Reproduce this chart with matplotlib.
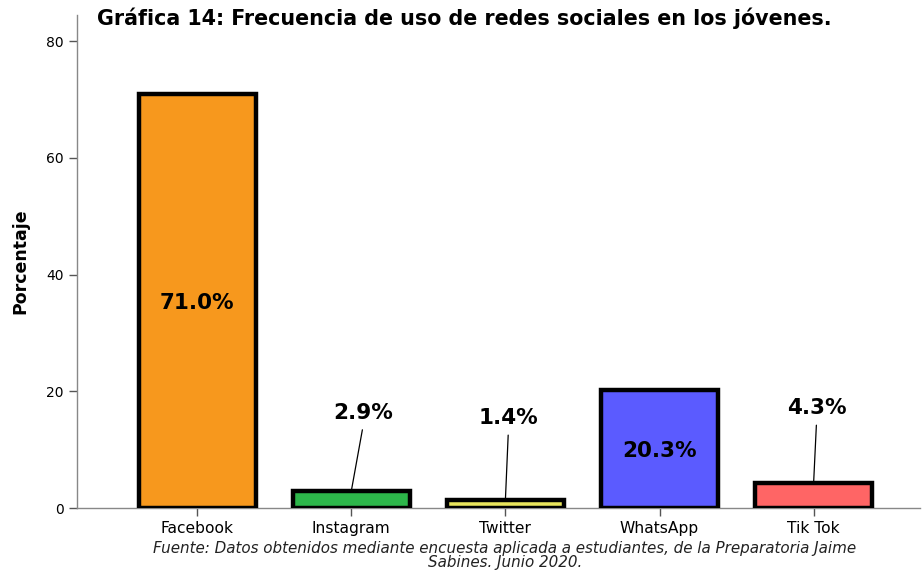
import matplotlib

matplotlib.use("Agg")
import matplotlib.pyplot as plt

categories = ["Facebook", "Instagram", "Twitter", "WhatsApp", "Tik Tok"]
percentages = [71.0, 2.9, 1.4, 20.3, 4.3]
bar_colors = ["#F7981D", "#2DB64A", "#E9E55C", "#5B5BFF", "#FF6565"]
y_ticks = [0, 20, 40, 60, 80]

# labels inside the bar vs. callouts above small bars
inside = [True, False, False, True, False]
callout_y = [None, 16.3, 15.4, None, 17.1]
callout_dx = [0, 0.08, 0.02, 0, 0.02]

plt.rcParams["font.family"] = ["DejaVu Sans"]

fig = plt.figure(figsize=(9.23, 5.71), dpi=100)
ax = fig.add_axes([0.0834, 0.1103, 0.9133, 0.8634])

x = list(range(len(categories)))
ax.bar(x, percentages, width=0.76, color=bar_colors, edgecolor="black",
       linewidth=3.2, zorder=3)

for i, v in enumerate(percentages):
    label = f"{v:.1f}%"
    if inside[i]:
        ax.text(i, v / 2 - 0.4, label, ha="center", va="center", fontsize=15.5,
                fontweight="bold", zorder=4)
    else:
        ax.annotate(label, xy=(i, v), xytext=(i + callout_dx[i], callout_y[i]),
                    ha="center", va="center", fontsize=15.5, fontweight="bold",
                    arrowprops=dict(arrowstyle="-", color="black", lw=0.9,
                                    relpos=(0.5, 0.0), shrinkA=3, shrinkB=0),
                    zorder=4)

ax.set_xlim(-0.78, 4.69)
ax.set_ylim(0, 84.5)
ax.set_xticks(x)
ax.set_xticklabels(categories, fontsize=11.2)
ax.set_yticks(y_ticks)
ax.tick_params(axis="both", colors="#555555", labelcolor="black", length=6,
               width=1)
ax.tick_params(axis="x", labelsize=11.2)
ax.tick_params(axis="y", labelsize=10)
for side in ("top", "right"):
    ax.spines[side].set_visible(False)
for side in ("left", "bottom"):
    ax.spines[side].set_color("#888888")
    ax.spines[side].set_linewidth(1)

ax.set_ylabel("Porcentaje", fontsize=12.5, fontweight="bold", labelpad=12)
fig.text(0.105, 0.968, "Gráfica 14: Frecuencia de uso de redes sociales en los jóvenes.",
         fontsize=14.85, fontweight="bold", ha="left", va="center")
fig.text(0.547, 0.027,
         "Fuente: Datos obtenidos mediante encuesta aplicada a estudiantes, de la Preparatoria Jaime\nSabines. Junio 2020.",
         fontsize=10.9, fontstyle="italic", ha="center", va="center",
         linespacing=0.9, color="#222222")

fig.savefig("out.png", dpi=100)
